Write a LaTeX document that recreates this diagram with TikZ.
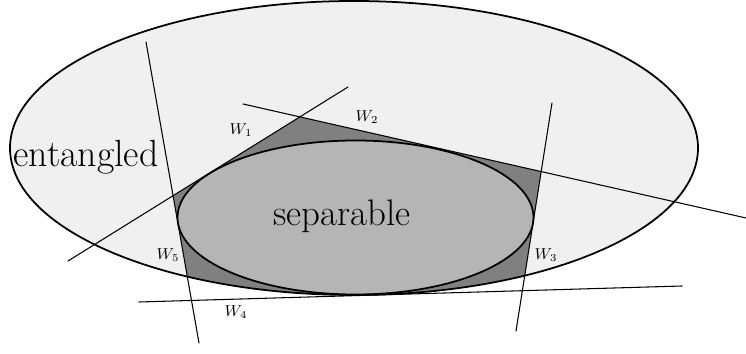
\documentclass[tikz,border=0pt]{standalone}
\usepackage{amsmath,amssymb}
\usepackage{tikz}
\usepackage{xcolor}

\begin{document}
\begin{tikzpicture}[scale=1.0, line cap=round, line join=round]
\useasboundingbox (0,0) rectangle (14.92,7.08);
\coordinate (w1a) at (6.96,5.34);  \coordinate (w1b) at (1.36,1.86);
\coordinate (w2a) at (4.86,5.00);  \coordinate (w2b) at (14.92,2.72);
\coordinate (w3a) at (11.04,5.02); \coordinate (w3b) at (10.32,0.46);
\coordinate (w4a) at (2.78,1.04);  \coordinate (w4b) at (13.64,1.36);
\coordinate (w5a) at (2.92,6.24);  \coordinate (w5b) at (3.98,0.22);

\fill[gray!12] (7.08,4.12) ellipse (6.88 and 2.94);
\begin{scope}
\clip (7.08,4.12) ellipse (6.88 and 2.94);
\fill[black!50]
  (intersection of w1a--w1b and w2a--w2b) --
  (intersection of w2a--w2b and w3a--w3b) --
  (intersection of w3a--w3b and w4a--w4b) --
  (intersection of w4a--w4b and w5a--w5b) --
  (intersection of w5a--w5b and w1a--w1b) -- cycle;
\end{scope}
\fill[black!29] (7.11,2.73) ellipse (3.56 and 1.54);
\draw[line width=1pt] (7.11,2.73) ellipse (3.56 and 1.54);
\draw[line width=1pt] (7.08,4.12) ellipse (6.88 and 2.94);

\draw[line width=0.6pt] (w1a) -- (w1b);
\draw[line width=0.6pt] (w2a) -- (w2b);
\draw[line width=0.6pt] (w3a) -- (w3b);
\draw[line width=0.6pt] (w4a) -- (w4b);
\draw[line width=0.6pt] (w5a) -- (w5b);

\node (l1) at (4.82,4.48) {\small $W_1$};
\node (l2) at (7.34,4.74) {\small $W_2$};
\node (l3) at (10.92,1.98) {\small $W_3$};
\node (l4) at (4.72,0.84) {\small $W_4$};
\node (l5) at (3.36,1.98) {\small $W_5$};
\node (ent) at (1.72,3.94) {\fontsize{21.5}{24}\selectfont entangled};
\node (sep) at (6.84,2.76) {\fontsize{21}{24}\selectfont separable};
\end{tikzpicture}
\end{document}
